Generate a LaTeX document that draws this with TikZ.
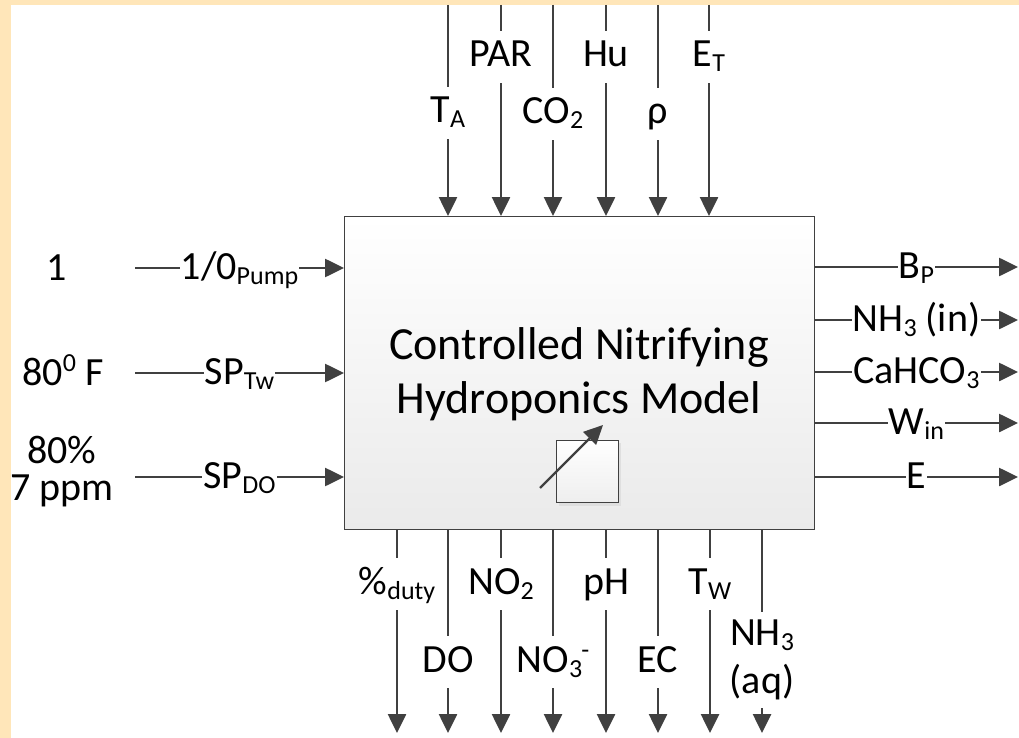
\documentclass[tikz,border=0pt]{standalone}
\usepackage{fontspec}
\setmainfont{Carlito}
\usetikzlibrary{arrows.meta}
\definecolor{peach}{RGB}{255,230,185}
\definecolor{ln}{RGB}{64,64,64}
\newcommand{\dn}[1]{{\fontsize{26}{26}\selectfont\raisebox{-5pt}{#1}}}
\newcommand{\up}[1]{{\fontsize{26}{26}\selectfont\raisebox{14pt}{#1}}}
\tikzset{
  arr/.style={draw=ln, line width=2.6pt, -{Triangle[length=19pt,width=18pt]}},
  vlab/.style={fill=white, font=\fontsize{40}{48}\selectfont, inner xsep=2pt, inner ysep=8pt, text height=28pt, text depth=8pt, anchor=base},
  hlab/.style={fill=white, font=\fontsize{40}{48}\selectfont, inner xsep=1pt, inner ysep=2pt, anchor=base},
  side/.style={font=\fontsize{40}{48}\selectfont, inner sep=0pt, anchor=base},
}
\begin{document}
\begin{tikzpicture}[x=1pt,y=-1pt]
\useasboundingbox (0,0) rectangle (1019,738);
\fill[white] (0,0) rectangle (1019,738);
\fill[peach] (0,0) rectangle (1019,5);
\fill[peach] (0,0) rectangle (11,738);
% main box
\node[draw=ln, line width=1.3pt, top color=white, bottom color={rgb,255:red,234;green,234;blue,234},
      minimum width=470pt, minimum height=313pt, inner sep=0pt, anchor=north west] (box) at (344,216) {};
\node[align=center, font=\fontsize{46}{54}\selectfont, inner sep=0pt] (title) at (579,374)
  {Controlled Nitrifying\\Hydroponics Model};
% small square with arrow
\fill[gray!25] (559,443) rectangle (621,506);
\node[draw=ln, line width=1pt, top color=white, bottom color={rgb,255:red,238;green,238;blue,238},
      minimum size=62pt, inner sep=0pt, anchor=north west] (sq) at (556,440) {};
\coordinate (k1) at (540,488);
\coordinate (k2) at (603,425);
\draw[arr, line width=2.2pt] (k1) -- (k2);
% top inputs
\foreach \i/\x/\yb/\t in {1/448/123/{T\dn{A}}, 2/501/67/{PAR}, 3/553/124/{CO\dn{2}},
                          4/606/67/{Hu}, 5/658/124/{ρ}, 6/709/67/{E\dn{T}}} {
  \coordinate (top\i) at (\x,5);
  \draw[arr] (top\i) -- (top\i |- box.north);
  \node[vlab] (toplab\i) at (\x,\yb) {\t};
}
% left inputs
\foreach \i/\y/\t in {1/268/{1/0\dn{Pump}}, 2/373/{SP\dn{Tw}}, 3/477/{SP\dn{DO}}} {
  \coordinate (left\i) at (135,\y);
  \draw[arr] (left\i) -- (left\i -| box.west);
  \node[hlab] (leftlab\i) at (239.5,\y+11) {\t};
}
\node[side] (v1) at (57,280) {1};
\node[side] (v2) at (63,385) {80\up{0} F};
\node[font=\fontsize{40}{37}\selectfont, align=center, inner sep=0pt] (v3) at (62,472) {80\%\\7 ppm};
% right outputs
\foreach \i/\y/\t in {1/267/{B\dn{P}}, 2/320/{NH\dn{3} (in)}, 3/372/{CaHCO\dn{3}},
                      4/423/{W\dn{in}}, 5/477/{E}} {
  \coordinate (right\i) at (1018,\y);
  \draw[arr] (right\i -| box.east) -- (right\i);
  \node[hlab] (rightlab\i) at (916.5,\y+11) {\t};
}
% bottom outputs
\foreach \i/\x/\yb/\t in {1/397/594/{\%\dn{duty}}, 2/448/672/{DO}, 3/501/594/{NO\dn{2}},
                          4/553/672/{NO\dn{3}\hspace{-1pt}\up{-}}, 5/606/594/{pH}, 6/658/672/{EC},
                          7/710/594/{T\dn{W}}} {
  \coordinate (bot\i) at (\x,733);
  \draw[arr] (bot\i |- box.south) -- (bot\i);
  \node[vlab] (botlab\i) at (\x,\yb) {\t};
}
\coordinate (bot8) at (762,733);
\draw[arr] (bot8 |- box.south) -- (bot8);
\node[fill=white, align=center, font=\fontsize{40}{48}\selectfont, inner xsep=2pt, inner ysep=8pt] (botlab8) at (762,660) {NH\dn{3}\\(aq)};
\end{tikzpicture}
\end{document}
